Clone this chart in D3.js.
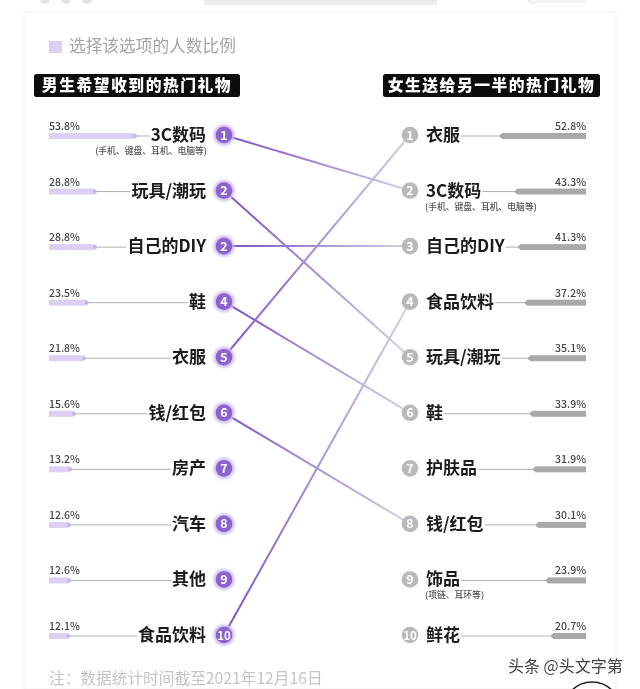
<!DOCTYPE html>
<html><head><meta charset="utf-8">
<style>html,body{margin:0;padding:0;background:#fff}svg{display:block}text{font-family:"Noto Sans CJK SC","Noto Sans",sans-serif}</style>
<script src="https://cdn.jsdelivr.net/npm/d3@7/dist/d3.min.js"></script>
</head><body><svg id="c" width="640" height="689"></svg>
<script>
const leftNames=["3C数码","玩具/潮玩","自己的DIY","鞋","衣服","钱/红包","房产","汽车","其他","食品饮料"];
const leftValues=[53.8,28.8,28.8,23.5,21.8,15.6,13.2,12.6,12.6,12.1];
const leftRanks=["1","2","2","4","5","6","7","8","9","10"];
const leftNotes={"3C数码":"(手机、键盘、耳机、电脑等)"};
const rightNames=["衣服","3C数码","自己的DIY","食品饮料","玩具/潮玩","鞋","护肤品","钱/红包","饰品","鲜花"];
const rightValues=[52.8,43.3,41.3,37.2,35.1,33.9,31.9,30.1,23.9,20.7];
const rightRanks=["1","2","3","4","5","6","7","8","9","10"];
const rightNotes={"3C数码":"(手机、键盘、耳机、电脑等)","饰品":"(项链、耳环等)"};
const legendText="选择该选项的人数比例";
const leftTitle="男生希望收到的热门礼物";
const rightTitle="女生送给另一半的热门礼物";
const footnote="注：数据统计时间截至2021年12月16日";
const watermark="头条 @头文字第";

const svg=d3.select("#c");
const purple="#8a63cf",lilac="#dccff3",grey="#a9a9a9";
const y=d3.scaleLinear().domain([0,9]).range([135,635]);
const w=d3.scaleLinear().domain([0,53.8]).range([0,86]);
const leftX=224,rightX=410,barL=49,barR=586;
const defs=svg.append("defs");
const grad=defs.append("linearGradient").attr("id","g").attr("gradientUnits","objectBoundingBox");
grad.append("stop").attr("offset","0").attr("stop-color","#7b4fc4");
grad.append("stop").attr("offset","1").attr("stop-color","#d6d1e2");
const f=defs.append("filter").attr("id","blur").attr("x","-20%").attr("y","-20%").attr("width","140%").attr("height","140%");
f.append("feGaussianBlur").attr("stdDeviation","0.45");
const gl=defs.append("filter").attr("id","glow").attr("x","-50%").attr("y","-50%").attr("width","200%").attr("height","200%");
gl.append("feGaussianBlur").attr("stdDeviation","1.6");

const root=svg.append("g").attr("filter","url(#blur)");
root.append("rect").attr("x",24).attr("y",12).attr("width",592).attr("height",677).attr("fill","#fff").attr("stroke","#f1f1f1");
root.append("rect").attr("x",204).attr("y",-4).attr("width",233).attr("height",9).attr("rx",3).attr("fill","#ececec");
root.selectAll("circle.top").data([45,66,87,533]).join("circle").attr("cx",d=>d).attr("cy",-1).attr("r",5).attr("fill","#e2e2e2");
root.append("rect").attr("x",530).attr("y",-4).attr("width",55).attr("height",7).attr("fill","#f4f4f4");

root.append("rect").attr("x",49).attr("y",41).attr("width",13).attr("height",12).attr("fill",lilac);
root.append("text").attr("x",69).attr("y",52).attr("font-size",16.7).attr("fill","#a5a5a5").text(legendText);

function title(x,wd,t){
  root.append("rect").attr("x",x).attr("y",74).attr("width",wd).attr("height",23).attr("rx",2.5).attr("fill","#0a0a0a");
  root.append("text").attr("x",x+wd/2).attr("y",91).attr("text-anchor","middle").attr("font-size",15.8).attr("font-weight",900).attr("fill","#fff").attr("letter-spacing",1.5).text(t);
}
title(34,206,leftTitle);
title(383,217,rightTitle);

const links=leftNames.map((n,i)=>({i,j:rightNames.indexOf(n)})).filter(d=>d.j>=0);
root.selectAll("line.link").data(links).join("line")
  .attr("x1",leftX).attr("x2",rightX).attr("y1",d=>y(d.i)).attr("y2",d=>y(d.j)+0.01)
  .attr("stroke","url(#g)").attr("stroke-width",2);

function side(names,vals,ranks,notes,isLeft){
  names.forEach((n,i)=>{
    const cy=y(i),len=w(vals[i]);
    const bx=isLeft?barL:barR-len;
    const cx=isLeft?leftX:rightX;
    const col=isLeft?lilac:grey;
    const tx=isLeft?206:426;
    const label=root.append("text").attr("x",tx).attr("y",cy+6).attr("font-size",17).attr("font-weight",700).attr("fill","#1a1a1a")
      .attr("text-anchor",isLeft?"end":"start").text(n);
    const tw=label.node().getComputedTextLength();
    const ly=cy+1;
    root.append("line").attr("x1",isLeft?bx+len:tx+tw+1).attr("x2",isLeft?tx-tw-1:bx).attr("y1",ly).attr("y2",ly).attr("stroke","#b0b0b0").attr("stroke-width",1);
    root.append("rect").attr("x",bx).attr("y",cy-2).attr("width",len).attr("height",6).attr("fill",col);
    root.append("circle").attr("cx",isLeft?bx+len:bx).attr("cy",ly).attr("r",2).attr("fill",isLeft?"#c4b6dd":grey);
    root.append("text").attr("x",isLeft?barL:barR).attr("y",cy-5).attr("text-anchor",isLeft?"start":"end").attr("font-size",10.5).attr("font-weight",500).attr("fill","#444").text(vals[i].toFixed(1)+"%");
    if(notes[n]) root.append("text").attr("x",isLeft?207:425).attr("y",cy+19).attr("text-anchor",isLeft?"end":"start").attr("font-size",8.8).attr("font-weight",500).attr("fill","#555").text(notes[n]);
    if(isLeft) root.append("circle").attr("cx",cx).attr("cy",cy).attr("r",10.5).attr("fill","#cdb8ef").attr("filter","url(#glow)");
    root.append("circle").attr("cx",cx).attr("cy",cy).attr("r",8.3).attr("fill",isLeft?purple:"#b9b9b9");
    root.append("text").attr("x",cx).attr("y",cy+4.5).attr("text-anchor","middle").attr("font-size",ranks[i].length>1?11.5:12.5).attr("font-weight",700).attr("fill","#fff").text(ranks[i]);
  });
}
side(leftNames,leftValues,leftRanks,leftNotes,true);
side(rightNames,rightValues,rightRanks,rightNotes,false);

root.append("text").attr("x",49).attr("y",683.5).attr("font-size",15.7).attr("fill","#c4c4c4").text(footnote);
root.append("text").attr("x",508).attr("y",672).attr("font-size",16).attr("fill","#444").text(watermark);
root.append("circle").attr("cx",592).attr("cy",711).attr("r",29).attr("fill","#fff").attr("stroke","#222").attr("stroke-width",1.5);
</script></body></html>
